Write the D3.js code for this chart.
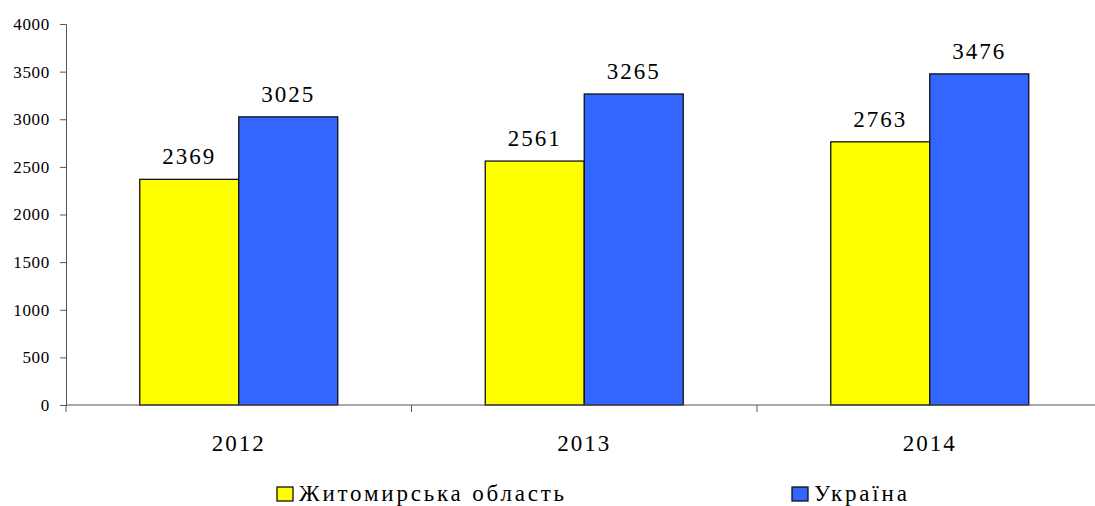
<!DOCTYPE html>
<html>
<head>
<meta charset="utf-8">
<title>D3</title>
<script src="https://d3js.org/d3.v7.min.js"></script>
<style>
  body { margin: 0; background: #fff; }
  svg text { font-family: "Times New Roman", Times, "Liberation Serif", "DejaVu Serif", "Noto Serif", serif; fill: #000; }
</style>
</head>
<body>
<svg id="chart" width="1095" height="506"></svg>
<script>
var years = ["2012", "2013", "2014"];
var seriesNames = ["Житомирська область", "Україна"];
var zhytomyr = [2369, 2561, 2763];
var ukraine = [3025, 3265, 3476];
var yTicks = [0, 500, 1000, 1500, 2000, 2500, 3000, 3500, 4000];
var colors = ["#ffff00", "#3366ff"];

var svg = d3.select("#chart");

var plotLeft = 66, plotRight = 1102.5, plotTop = 24, plotBottom = 405;

var x0 = d3.scaleBand().domain(years).range([plotLeft, plotRight]).padding(0);
var x1 = d3.scaleBand().domain([0, 1]).range([0, x0.bandwidth()]).paddingInner(0).paddingOuter(0.745);
var y = d3.scaleLinear().domain([0, 4000]).range([plotBottom, plotTop]);

// y axis
var yAxis = svg.append("g")
  .attr("transform", "translate(" + plotLeft + ",0)")
  .call(d3.axisLeft(y).tickValues(yTicks).tickSize(6).tickPadding(10).tickFormat(d3.format("d")));
yAxis.attr("font-family", null).attr("font-size", null);
yAxis.selectAll("path, line").attr("stroke", "#555");
yAxis.selectAll("text")
  .style("font-size", "17px")
  .style("letter-spacing", "0.7px");

// bars
var data = years.map(function(yr, i) { return { year: yr, vals: [zhytomyr[i], ukraine[i]] }; });

var groups = svg.selectAll("g.grp")
  .data(data)
  .enter()
  .append("g")
  .attr("class", "grp")
  .attr("transform", function(d) { return "translate(" + x0(d.year) + ",0)"; });

groups.selectAll("rect")
  .data(function(d) { return d.vals.map(function(v, k) { return { k: k, v: v }; }); })
  .enter()
  .append("rect")
  .attr("x", function(d) { return x1(d.k); })
  .attr("y", function(d) { return y(d.v); })
  .attr("width", x1.bandwidth())
  .attr("height", function(d) { return plotBottom - y(d.v); })
  .attr("fill", function(d) { return colors[d.k]; })
  .attr("stroke", "#111")
  .attr("stroke-width", 1.3);

groups.selectAll("text.val")
  .data(function(d) { return d.vals.map(function(v, k) { return { k: k, v: v }; }); })
  .enter()
  .append("text")
  .attr("class", "val")
  .attr("x", function(d) { return x1(d.k) + x1.bandwidth() / 2; })
  .attr("y", function(d) { return y(d.v) - 15; })
  .attr("text-anchor", "middle")
  .style("font-size", "23px")
  .style("letter-spacing", "2px")
  .text(function(d) { return d.v; });

// x axis
var xAxis = svg.append("g")
  .attr("transform", "translate(0," + plotBottom + ")");
xAxis.append("line")
  .attr("x1", plotLeft).attr("x2", plotRight)
  .attr("stroke", "#555");
xAxis.selectAll("line.tick")
  .data(years.concat(["end"]))
  .enter()
  .append("line")
  .attr("class", "tick")
  .attr("x1", function(d, i) { return i < years.length ? x0(d) : plotRight; })
  .attr("x2", function(d, i) { return i < years.length ? x0(d) : plotRight; })
  .attr("y1", 0).attr("y2", 7)
  .attr("stroke", "#555");
xAxis.selectAll("text")
  .data(years)
  .enter()
  .append("text")
  .attr("x", function(d) { return x0(d) + x0.bandwidth() / 2; })
  .attr("y", 46)
  .attr("text-anchor", "middle")
  .style("font-size", "23px")
  .style("letter-spacing", "2px")
  .text(function(d) { return d; });

// legend
var legendX = [277, 792];
var legend = svg.selectAll("g.leg")
  .data(seriesNames)
  .enter()
  .append("g")
  .attr("class", "leg")
  .attr("transform", function(d, i) { return "translate(" + legendX[i] + ",487)"; });
legend.append("rect")
  .attr("width", 16).attr("height", 14)
  .attr("fill", function(d, i) { return colors[i]; })
  .attr("stroke", "#111")
  .attr("stroke-width", 1.3);
legend.append("text")
  .attr("x", 22)
  .attr("y", 14)
  .style("font-size", "23px")
  .style("letter-spacing", "2.8px")
  .text(function(d) { return d; });
</script>
</body>
</html>
